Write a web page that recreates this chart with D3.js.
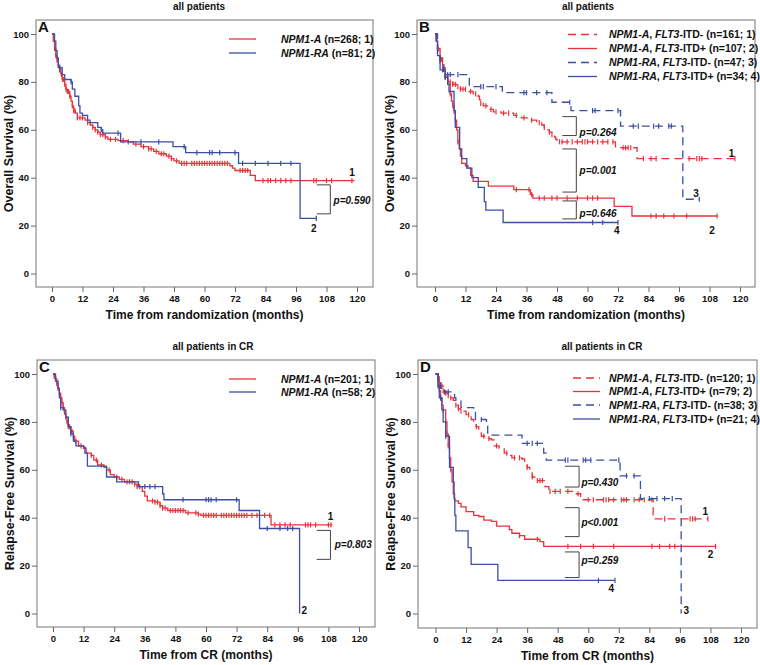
<!DOCTYPE html>
<html>
<head>
<meta charset="utf-8">
<script src="https://cdn.jsdelivr.net/npm/d3@7"></script>
<style>
  body { margin: 0; background: #fff; }
  text { font-family: "Liberation Sans", Arial, sans-serif; font-weight: bold; fill: #111; }
</style>
</head>
<body>
<svg id="fig" width="760" height="665"></svg>
<script>
'use strict';

var red = "#e8333b", blue = "#3d4ea6";
var xTicks = [0, 12, 24, 36, 48, 60, 72, 84, 96, 108, 120];
var yTicks = [0, 20, 40, 60, 80, 100];

// ---- panel A : overall survival, NPM1-A vs NPM1-RA
var aRedSteps = [[0,100],[0.5,97],[1,94],[1.5,91],[2,89],[2.5,87],[3,85],[3.5,83],[4,81],[5,79],[5.5,77],[6,76],[7,74],[7.5,72],[8,70],[8.5,68],[9.2,67],[10,65],[13,64],[14,63],[15,62],[16,61],[17,60],[18,59],[19,58],[21,57],[22,56],[26,55.5],[30,55],[32,54],[35,53],[38,52],[40,51],[42,50],[45,49],[47,48],[48,47],[50,46],[70,45],[71,44],[72,43],[78,41],[80,38.8]];
var aRedEnd = 119;
var aRedCens = [1,1.5,2,2.5,3,3.3,3.8,4.2,4.6,5,5.5,6,6.5,7,8,8.5,9,10,11,12,14,16,17,18,19,20,21,23,25,28,30,33,36,38,39,41,43,44,46,47,49,51,52,53,55,56,57,58,59,60,61,62,63,64,65,66,67,68,69,74,75,76,77,83,85,86,88,90,92,94,103,104,108,110,118];
var aBlueSteps = [[0,100],[1,97],[1.5,93],[2,90],[2.5,86],[4,83],[5,81],[7.5,80],[8,77],[9,74],[10.5,70],[11,67],[12,66],[14,64],[15,63],[18,61],[19.3,60],[20,58.6],[27,55],[47.6,53],[52.6,50.5],[73.4,46],[97.6,23]];
var aBlueEnd = 104;
var aBlueCens = [3,7.5,19.5,26,35,42,52,57,62,63,66,72,75,80,85,90,94,104];
var aLegend = [[["NPM1-A",1],[" (n=268; 1)",0]], [["NPM1-RA",1],[" (n=81; 2)",0]]];
var aBrackets = [{t1:104.2, t2:109.5, top:37, bot:24.9, label:"p=0.590", lt:110.8, ls:30.3}];
var aEndLabels = [{t:118, s:42, text:"1"}, {t:103, s:18.6, text:"2"}];

// ---- panel B : overall survival by FLT3-ITD
var bRedDashSteps = [[0,100],[0.5,97],[1,94],[1.5,92],[2,90],[2.5,88],[3,86],[3.5,84],[4,82],[5,80],[7,79],[8.5,78],[10,77],[13,76],[15,75],[17,74],[17.5,72.5],[18,71],[19,70],[21,68.5],[23,67.5],[26,67],[31,66],[34,65],[37,64],[40,63],[42,62],[43,61],[44,60],[45,59],[46,58],[47,57],[47.5,56],[48,55],[71,52.5],[79.5,48]];
var bRedDashEnd = 118;
var bRedDashCens = [1,2,3,4,5,6,7,8,9,10,11,12,14,16,18,20,22,24,27,29,32,35,38,41,43,45,46,49,50,52,54,56,58,59,60,62,64,66,68,70,74,75,76,77,82,85,87,100,103,104,105,118];
var bRedSteps = [[0,100],[0.5,97],[1,94],[2,90],[3,86],[4,83],[5,80],[6,75],[6.5,72],[7,70],[7.5,67],[8,64],[8.5,60],[9,55],[9.5,52],[10,49],[10.5,46],[12,45],[13,44],[14,41],[15,38.5],[21,36.5],[31,35],[37.5,33],[38.5,31.5],[70.5,28],[77.5,24]];
var bRedEnd = 111;
var bRedCens = [2,3,4,5,6,7,8,9,32,37,38,41,43,46,48,52,56,60,62,64,85,87,90,94,99,111];
var bBlueDashSteps = [[0,100],[1,92],[2,88],[3.5,83],[13.5,78],[26.5,75.5],[46,71.5],[53.5,68],[73,61.5],[97.5,31]];
var bBlueDashEnd = 104;
var bBlueDashCens = [5,6,9,18,19,24,35,36,40,44,53,62,63,72,78,80,86,88,92,93,104];
var bBlueSteps = [[0,100],[0.5,97],[1,91],[2,85],[4,82],[5,79],[5.5,76],[7.5,68],[8,61],[9.7,52],[10.5,48],[12.5,44],[14.5,40],[17,36],[19.4,30],[20,26.5],[26.8,21.3]];
var bBlueEnd = 72;
var bBlueCens = [3,4,62,66,72];
var bLegend = [
  [["NPM1-A",1],[", ",0],["FLT3",1],["-ITD- (n=161; 1)",0]],
  [["NPM1-A",1],[", ",0],["FLT3",1],["-ITD+ (n=107; 2)",0]],
  [["NPM1-RA",1],[", ",0],["FLT3",1],["-ITD- (n=47; 3)",0]],
  [["NPM1-RA",1],[", ",0],["FLT3",1],["-ITD+ (n=34; 4)",0]]
];
var bBrackets = [
  {t1:50.1, t2:55.6, top:65.5, bot:57.6, label:"p=0.264", lt:56.9, ls:59},
  {t1:50.1, t2:55.6, top:52, bot:34, label:"p=0.001", lt:56.9, ls:43},
  {t1:50.1, t2:55.6, top:30.3, bot:22.8, label:"p=0.646", lt:56.9, ls:24.9}
];
var bEndLabels = [{t:116.7, s:50.3, text:"1"}, {t:102.7, s:33.6, text:"3"}, {t:109, s:18, text:"2"}, {t:71.5, s:18, text:"4"}];

// ---- panel C : relapse-free survival, NPM1-A vs NPM1-RA
var cRedSteps = [[0,100],[0.5,99],[1,98],[1.5,96],[2,94],[2.5,92],[3,90],[3.5,88],[4,86],[4.5,84],[5,82],[5.5,80],[6,78],[7,76],[8,74],[8.5,72],[10,70],[12,69],[13,67],[15,66],[16,64],[17.5,62],[20,61],[21,60],[22.5,58],[24,57],[26,56],[28,55],[32,54],[33,53],[35,51],[36,49],[37,47],[40,46.5],[42,45],[43,44],[45,43],[52,42],[57,41.5],[58,41],[85.5,37]];
var cRedEnd = 109.5;
var cRedCens = [0.5,1,1.5,2,2.5,3,3.5,4,4.5,5,5.5,6,6.5,7,7.5,8,9,11,15,17,19,22,25,27,29,30,31,32,33,34,39,40,41,42,43,44,46,47,48,49,50,51,53,56,57,59,60,61,62,63,64,66,67,68,69,70,71,72,73,74,75,76,78,80,83,85,87,89,91,93,99,100,101,103,108,109];
var cBlueSteps = [[0,100],[1,97],[2,94],[2.5,90],[3,86],[4,85],[5,82],[6,78],[7,75],[8,72],[9,70],[12,69.5],[12.5,67],[13.5,61.5],[21,57],[25,55],[33.5,53],[43,50],[43.5,47.5],[73,43],[81,35.5],[96.7,0]];
var cBlueEnd = 96.7;
var cBlueCens = [3,7,36,38,40,51,60,61,62,64,72,84,89,92,94];
var cLegend = [[["NPM1-A",1],[" (n=201; 1)",0]], [["NPM1-RA",1],[" (n=58; 2)",0]]];
var cBrackets = [{t1:103.4, t2:108.8, top:34.7, bot:22.6, label:"p=0.803", lt:110.5, ls:28.7}];
var cEndLabels = [{t:108.8, s:40.7, text:"1"}, {t:98.5, s:1.4, text:"2"}];

// ---- panel D : relapse-free survival by FLT3-ITD
var dRedDashSteps = [[0,100],[1,98],[2,95],[3,93],[4,92],[5,91],[6,90],[7,89],[8,87],[9,85.5],[10,84.5],[12,83],[14,81],[15,80],[16,78],[17,76],[18,74],[20,73],[22,72.5],[23,70],[25,69],[27,67],[29,66],[30,65],[34,64.5],[35,63],[36,61],[37,59],[38,57],[39,55.5],[43,53],[44.5,51],[55,50],[57,48.5],[58,47.5],[85.5,39.5]];
var dRedDashEnd = 107;
var dRedDashCens = [1,1.5,2,2.5,3,4,5,6,8,9,10,13,16,19,21,24,28,31,33,36,38,40,41,42,45,47,49,52,56,60,62,66,67,68,70,73,74,75,78,80,82,85,90,100,101,102,107];
var dRedSteps = [[0,100],[1,97],[1.5,93],[2,90],[2.5,87],[3,85],[4,80],[4.5,75],[5,70],[5.5,65],[6,60],[6.5,55],[7,50],[7.5,47],[9,46],[10,44.5],[12,42.5],[15,41],[17,40.5],[19,39],[22,38.5],[24,36.5],[29,35],[30,33.5],[33,32.5],[35,31],[41,30],[42.5,28]];
var dRedEnd = 110;
var dRedCens = [1,2,3,4,4.5,5,5.5,6,33,40,52,57,62,70,85,88,92,94,110];
var dBlueDashSteps = [[0,100],[1,97],[2,94],[3,92.5],[7.5,90],[8,89],[10,86],[15,84],[15.7,81],[20,78.5],[20.5,74.5],[34,71],[42.5,67],[43.5,64],[72.5,57.5],[80.5,48],[96.5,0]];
var dBlueDashEnd = 96.5;
var dBlueDashCens = [3.5,5,18,36,38,40,51,52,58,59,61,72,75,78,84,87,90,93];
var dBlueSteps = [[0,100],[1,95],[1.5,90],[2.5,85],[3,80],[4,74],[5.5,61],[7,55],[7.3,48],[7.6,41],[8,34.5],[12.8,27.5],[14,20.5],[24.5,13.8]];
var dBlueEnd = 70.5;
var dBlueCens = [1,2,4,64,70.5];
var dLegend = [
  [["NPM1-A",1],[", ",0],["FLT3",1],["-ITD- (n=120; 1)",0]],
  [["NPM1-A",1],[", ",0],["FLT3",1],["-ITD+ (n=79; 2)",0]],
  [["NPM1-RA",1],[", ",0],["FLT3",1],["-ITD- (n=38; 3)",0]],
  [["NPM1-RA",1],[", ",0],["FLT3",1],["-ITD+ (n=21; 4)",0]]
];
var dBrackets = [
  {t1:50.8, t2:56.4, top:61.5, bot:52.8, label:"p=0.430", lt:57.3, ls:54.6},
  {t1:50.8, t2:56.4, top:44.2, bot:32.1, label:"p<0.001", lt:57.3, ls:38.2},
  {t1:50.8, t2:56.4, top:25.7, bot:15, label:"p=0.259", lt:57.3, ls:22}
];
var dEndLabels = [{t:106, s:42.4, text:"1"}, {t:108, s:24.7, text:"2"}, {t:69, s:10.4, text:"4"}, {t:98.5, s:1.4, text:"3"}];

var svg = d3.select("#fig");

function survAt(steps, t) {
  var i = d3.bisector(function (d) { return d[0]; }).right(steps, t) - 1;
  return steps[Math.max(i, 0)][1];
}

function drawPanel(p) {
  var f = p.frame;
  var x = d3.scaleLinear().domain([0, 120]).range(p.xr);
  var y = d3.scaleLinear().domain([0, 100]).range(p.yr);
  var g = svg.append("g");

  g.append("text").attr("x", p.titleX).attr("y", p.titleY)
    .attr("text-anchor", "middle").style("font-size", "10px").text(p.title);

  g.append("rect").attr("x", f[0]).attr("y", f[1])
    .attr("width", f[2] - f[0]).attr("height", f[3] - f[1])
    .attr("fill", "none").attr("stroke", "#777").attr("stroke-width", 1);

  // axes sit on the frame
  var yAxis = g.append("g").attr("transform", "translate(" + f[0] + ",0)")
    .call(d3.axisLeft(y).tickValues(yTicks).tickSize(5).tickPadding(2));
  var xAxis = g.append("g").attr("transform", "translate(0," + f[3] + ")")
    .call(d3.axisBottom(x).tickValues(xTicks).tickSize(5).tickPadding(3));
  [yAxis, xAxis].forEach(function (a) {
    a.select(".domain").remove();
    a.selectAll("line").attr("stroke", "#666");
    a.selectAll("text").attr("fill", "#111").style("font-size", "9.5px")
      .style("font-family", "'Liberation Sans', Arial, sans-serif").style("font-weight", "bold");
  });

  g.append("text")
    .attr("transform", "translate(" + (f[0] - 23) + "," + ((f[1] + f[3]) / 2) + ") rotate(-90)")
    .attr("text-anchor", "middle").style("font-size", "12.5px").text(p.yTitle);
  g.append("text").attr("x", (f[0] + f[2]) / 2).attr("y", f[3] + 32)
    .attr("text-anchor", "middle").style("font-size", "12px").text(p.xTitle);

  g.append("text").attr("x", f[0] + 2).attr("y", f[1] + 12)
    .style("font-size", "15px").text(p.letter);

  var line = d3.line().curve(d3.curveStepAfter)
    .x(function (d) { return x(d[0]); }).y(function (d) { return y(d[1]); });

  p.curves.forEach(function (c) {
    var pts = c.steps.concat([[c.end, c.steps[c.steps.length - 1][1]]]);
    g.append("path").attr("d", line(pts)).attr("fill", "none")
      .attr("stroke", c.color).attr("stroke-width", 1.3)
      .attr("stroke-dasharray", c.dash ? "8,5" : null);
    g.selectAll(null).data(c.cens).enter().append("line")
      .attr("x1", function (t) { return x(t); }).attr("x2", function (t) { return x(t); })
      .attr("y1", function (t) { return y(survAt(c.steps, t)) - 2.6; })
      .attr("y2", function (t) { return y(survAt(c.steps, t)) + 2.6; })
      .attr("stroke", c.color).attr("stroke-width", 1.2);
  });

  // legend
  p.legendLabels.forEach(function (lab, i) {
    var ly = p.legend.ys[i], c = p.curves[i];
    g.append("line").attr("x1", p.legend.x1).attr("x2", p.legend.x2)
      .attr("y1", ly).attr("y2", ly).attr("stroke", c.color).attr("stroke-width", 1.3)
      .attr("stroke-dasharray", c.dash ? "8,5" : null);
    var t = g.append("text").attr("x", p.legend.tx).attr("y", ly + 3.7).style("font-size", "10.5px");
    lab.forEach(function (seg) {
      t.append("tspan").style("font-style", seg[1] ? "italic" : "normal").text(seg[0]);
    });
  });

  // p-value brackets
  p.brackets.forEach(function (b) {
    g.append("path")
      .attr("d", "M" + x(b.t1) + "," + y(b.top) + "H" + x(b.t2) + "V" + y(b.bot) + "H" + x(b.t1))
      .attr("fill", "none").attr("stroke", "#444").attr("stroke-width", 1);
    g.append("text").attr("x", x(b.lt)).attr("y", y(b.ls) + 3.5)
      .style("font-size", "10px").style("font-style", "italic").text(b.label);
  });

  p.endLabels.forEach(function (e) {
    g.append("text").attr("x", x(e.t)).attr("y", y(e.s) + 3.5)
      .attr("text-anchor", "middle").style("font-size", "10px").text(e.text);
  });
}

var panels = [
  { letter: "A", title: "all patients", titleX: 199, titleY: 10,
    frame: [36, 20, 373, 287], xr: [52, 357], yr: [273.5, 34],
    yTitle: "Overall Survival (%)", xTitle: "Time from randomization (months)",
    curves: [
      { steps: aRedSteps, end: aRedEnd, cens: aRedCens, color: red, dash: false },
      { steps: aBlueSteps, end: aBlueEnd, cens: aBlueCens, color: blue, dash: false }
    ],
    legend: { x1: 229, x2: 256, tx: 281, ys: [39, 53] }, legendLabels: aLegend,
    brackets: aBrackets, endLabels: aEndLabels },
  { letter: "B", title: "all patients", titleX: 588, titleY: 10,
    frame: [417, 20, 755, 287], xr: [435, 740], yr: [273.5, 34],
    yTitle: "Overall Survival (%)", xTitle: "Time from randomization (months)",
    curves: [
      { steps: bRedDashSteps, end: bRedDashEnd, cens: bRedDashCens, color: red, dash: true },
      { steps: bRedSteps, end: bRedEnd, cens: bRedCens, color: red, dash: false },
      { steps: bBlueDashSteps, end: bBlueDashEnd, cens: bBlueDashCens, color: blue, dash: true },
      { steps: bBlueSteps, end: bBlueEnd, cens: bBlueCens, color: blue, dash: false }
    ],
    legend: { x1: 568, x2: 597, tx: 609, ys: [34.5, 48.5, 62.5, 76.5] }, legendLabels: bLegend,
    brackets: bBrackets, endLabels: bEndLabels },
  { letter: "C", title: "all patients in CR", titleX: 213, titleY: 350,
    frame: [37, 360, 375, 627], xr: [53, 359], yr: [613.5, 374],
    yTitle: "Relapse-Free Survival (%)", xTitle: "Time from CR (months)",
    curves: [
      { steps: cRedSteps, end: cRedEnd, cens: cRedCens, color: red, dash: false },
      { steps: cBlueSteps, end: cBlueEnd, cens: cBlueCens, color: blue, dash: false }
    ],
    legend: { x1: 229, x2: 256, tx: 281, ys: [379, 392] }, legendLabels: cLegend,
    brackets: cBrackets, endLabels: cEndLabels },
  { letter: "D", title: "all patients  in CR", titleX: 602, titleY: 350,
    frame: [418, 360, 757, 628], xr: [435.5, 741], yr: [613.5, 374],
    yTitle: "Relapse-Free Survival (%)", xTitle: "Time from CR (months)",
    curves: [
      { steps: dRedDashSteps, end: dRedDashEnd, cens: dRedDashCens, color: red, dash: true },
      { steps: dRedSteps, end: dRedEnd, cens: dRedCens, color: red, dash: false },
      { steps: dBlueDashSteps, end: dBlueDashEnd, cens: dBlueDashCens, color: blue, dash: true },
      { steps: dBlueSteps, end: dBlueEnd, cens: dBlueCens, color: blue, dash: false }
    ],
    legend: { x1: 573, x2: 600, tx: 609, ys: [378, 391.5, 405, 419] }, legendLabels: dLegend,
    brackets: dBrackets, endLabels: dEndLabels }
];

panels.forEach(drawPanel);
</script>
</body>
</html>
